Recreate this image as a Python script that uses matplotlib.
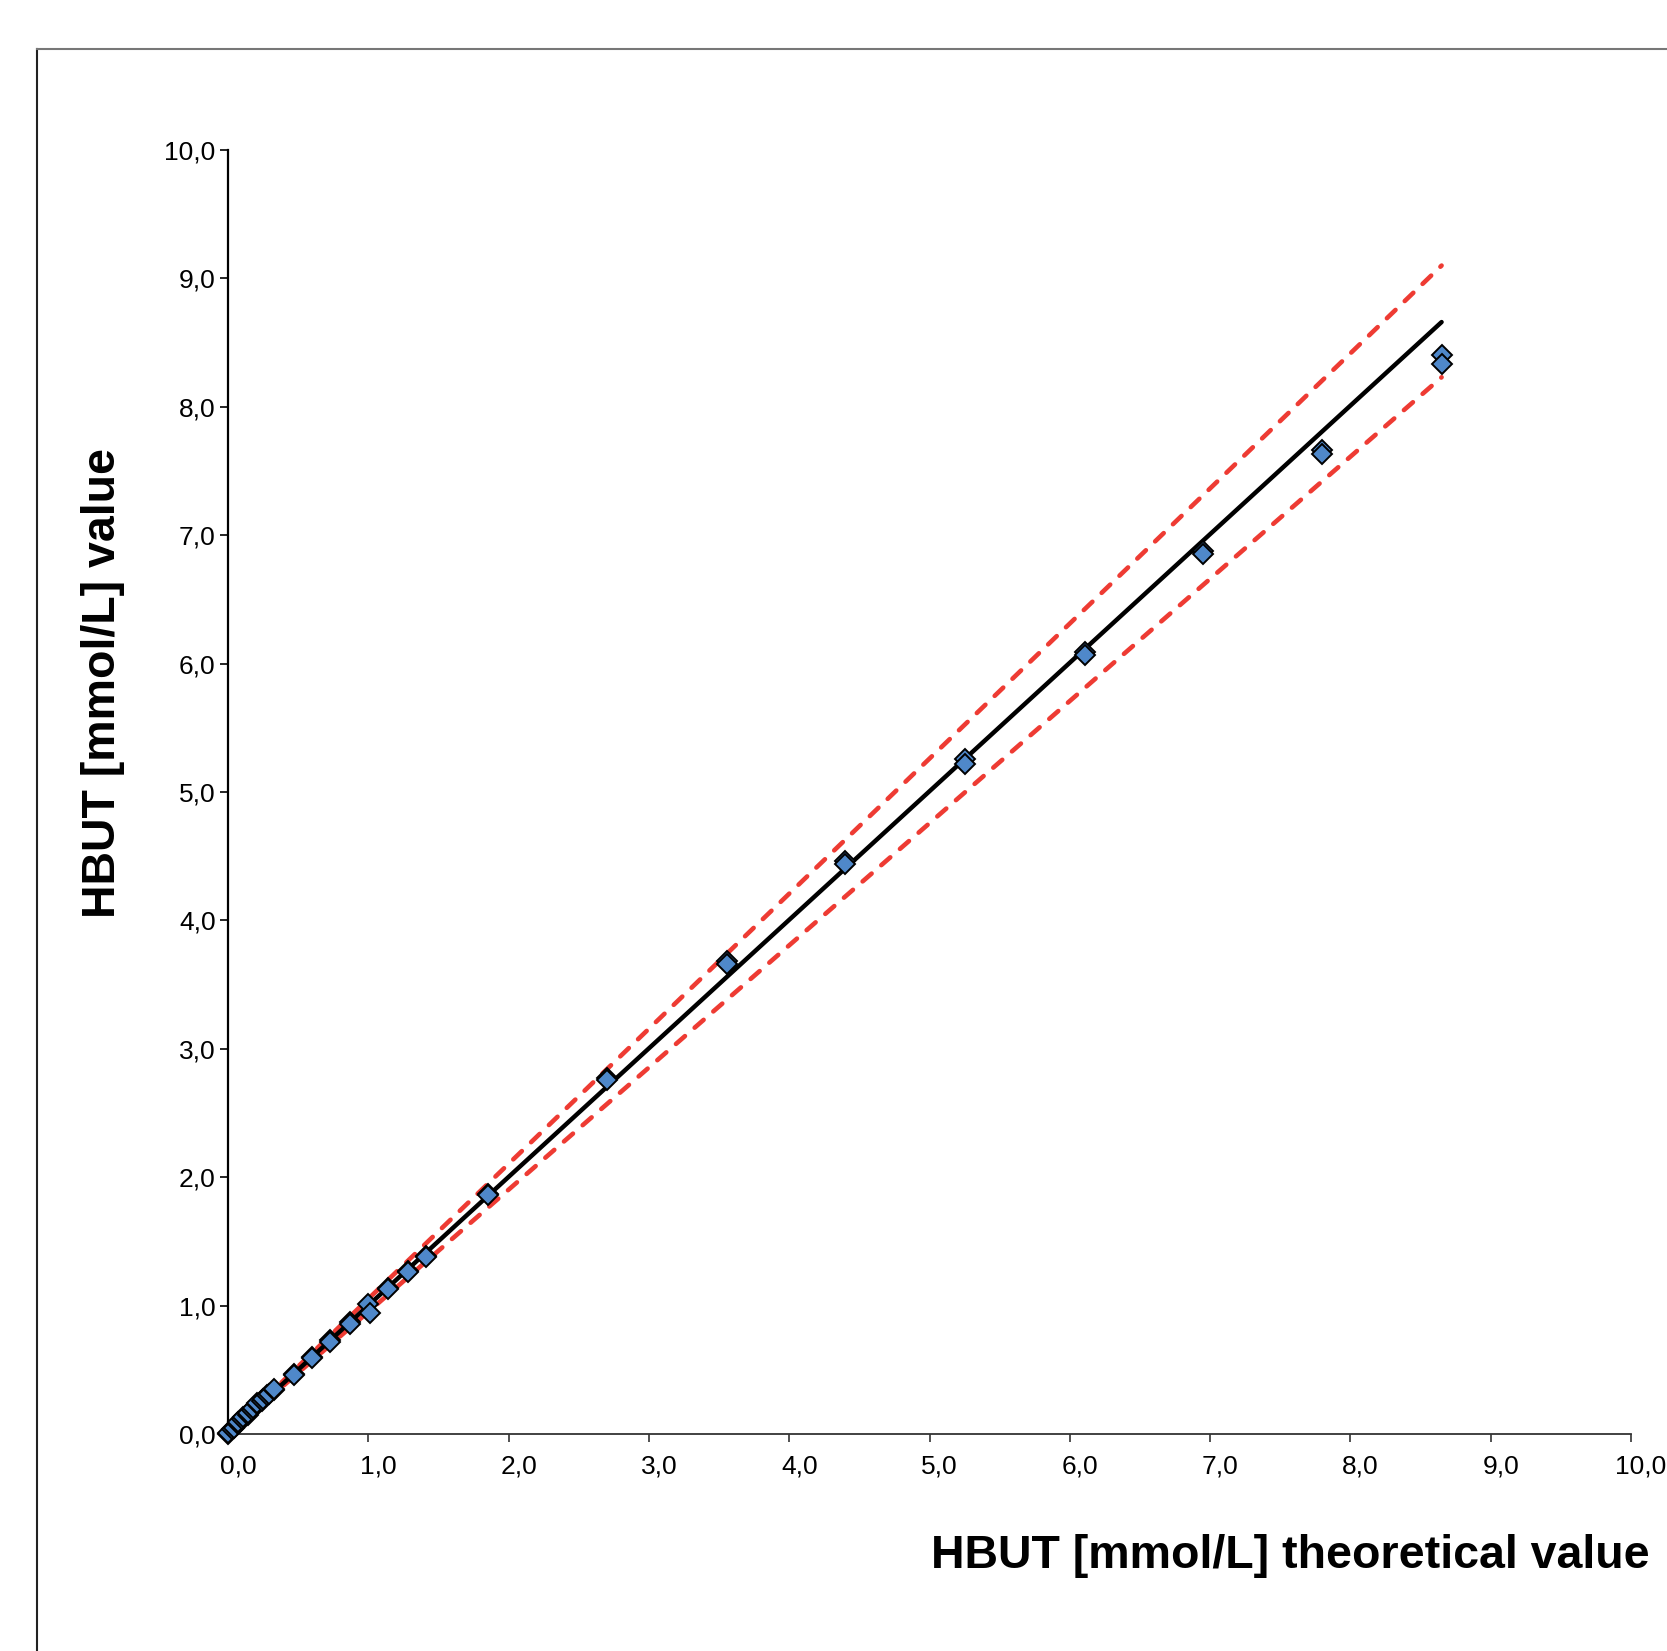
import matplotlib
matplotlib.use("Agg")
import matplotlib.pyplot as plt
import matplotlib.transforms as mtransforms
from matplotlib.lines import Line2D

plt.rcParams['font.family'] = ['Liberation Sans', 'DejaVu Sans']

# measured vs theoretical HBUT (mmol/L), replicates kept as separate points
theoretical = [0.00, 0.00, 0.03, 0.04, 0.07, 0.07, 0.10, 0.11, 0.14, 0.14,
               0.17, 0.18, 0.21, 0.21, 0.24, 0.25, 0.28, 0.29, 0.33, 0.33,
               0.47, 0.47, 0.60, 0.60, 0.73, 0.73, 0.87, 0.87, 1.00, 1.01,
               1.14, 1.14, 1.28, 1.28, 1.41, 1.41, 1.85, 1.85, 2.70, 2.70,
               3.56, 3.56, 4.40, 4.40, 5.25, 5.25, 6.11, 6.11, 6.95, 6.95,
               7.80, 7.80, 8.65, 8.65]
measured = [0.00, 0.01, 0.04, 0.05, 0.08, 0.09, 0.12, 0.13, 0.15, 0.16,
            0.19, 0.20, 0.23, 0.24, 0.26, 0.27, 0.30, 0.31, 0.34, 0.35,
            0.47, 0.46, 0.60, 0.59, 0.73, 0.72, 0.87, 0.86, 1.01, 0.94,
            1.14, 1.13, 1.27, 1.26, 1.39, 1.38, 1.87, 1.86, 2.77, 2.76,
            3.68, 3.66, 4.46, 4.44, 5.26, 5.22, 6.09, 6.07, 6.88, 6.85,
            7.66, 7.63, 8.40, 8.33]

# regression line and +/-5 % limits (end points)
fit_x = [0.0, 8.65]
fit_y = [0.0, 8.66]
upper_y = [0.0, 9.10]
lower_y = [0.0, 8.23]

ticks = [0, 1, 2, 3, 4, 5, 6, 7, 8, 9, 10]
tick_labels = ["0,0", "1,0", "2,0", "3,0", "4,0", "5,0", "6,0", "7,0", "8,0", "9,0", "10,0"]

W, H = 1667, 1651
fig = plt.figure(figsize=(W / 100, H / 100), dpi=100)
ax = fig.add_axes([228 / W, 1 - 1434 / H, (1631 - 228) / W, (1434 - 150) / H])

# outer frame (only top and left edges visible)
fig.add_artist(Line2D([37 / W, 37 / W], [0, 1 - 49 / H], transform=fig.transFigure,
                      color="#222222", lw=1.5))
fig.add_artist(Line2D([37 / W, 1], [1 - 49 / H, 1 - 49 / H], transform=fig.transFigure,
                      color="#777777", lw=1.5))

red = "#EE3B33"
ax.plot(fit_x, upper_y, color=red, lw=3.3, linestyle=(0, (2.6, 2.8)),
        dash_capstyle="round", zorder=2, clip_on=False)
ax.plot(fit_x, lower_y, color=red, lw=3.3, linestyle=(0, (2.6, 2.8)),
        dash_capstyle="round", zorder=2, clip_on=False)
ax.plot(fit_x, fit_y, color="black", lw=3.2, solid_capstyle="round", zorder=3, clip_on=False)
ax.plot(theoretical, measured, linestyle="none", marker="D", markersize=10.5,
        markerfacecolor="#4F88CA", markeredgecolor="black", markeredgewidth=1.4,
        zorder=4, clip_on=False)

ax.set_xlim(0, 10)
ax.set_ylim(0, 10)
ax.set_xticks(ticks)
ax.set_xticklabels(tick_labels)
ax.set_yticks(ticks)
ax.set_yticklabels(tick_labels)

ax.spines["top"].set_visible(False)
ax.spines["right"].set_visible(False)
ax.spines["left"].set_color("black")
ax.spines["left"].set_linewidth(1.6)
ax.spines["bottom"].set_color("#333333")
ax.spines["bottom"].set_linewidth(1.3)

ax.tick_params(axis="x", direction="out", length=6, width=1.2, color="#333333",
               labelsize=19, pad=9)
ax.tick_params(axis="y", direction="out", length=6, width=1.2, color="black",
               labelsize=19, pad=3)

# x tick labels sit a bit to the right of their ticks
offset = mtransforms.ScaledTranslation(10 / 100, 0, fig.dpi_scale_trans)
for lab in ax.get_xticklabels():
    lab.set_transform(lab.get_transform() + offset)

fig.text(1650 / W, 1 - 1556 / H, "HBUT [mmol/L] theoretical value", ha="right", va="center",
         fontsize=33.5, fontweight="bold")
fig.text(103 / W, 1 - 683 / H, "HBUT [mmol/L] value", ha="center", va="center",
         rotation=90, fontsize=33.5, fontweight="bold")

fig.savefig("out.png", dpi=100, facecolor="white")
